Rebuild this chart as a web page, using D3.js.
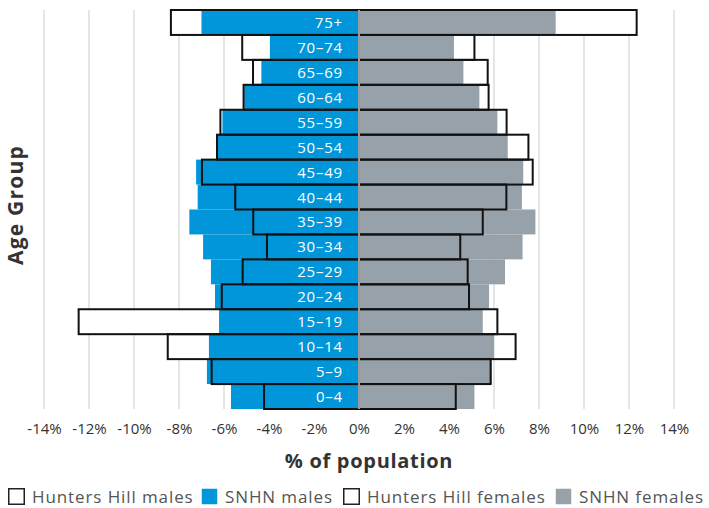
<!DOCTYPE html>
<html lang="en">
<head>
<meta charset="utf-8">
<title>Population pyramid</title>
<script src="https://cdn.jsdelivr.net/npm/d3@7"></script>
<style>
  body { margin: 0; background: #fff; }
  svg text { font-family: "Open Sans", sans-serif; }
</style>
</head>
<body>
<div id="chart"></div>
<script>
// age groups, bottom to top
var ageGroups = ["0-4","5-9","10-14","15-19","20-24","25-29","30-34","35-39",
                 "40-44","45-49","50-54","55-59","60-64","65-69","70-74","75+"];

// % of population, same order as ageGroups
var hhMales     = [4.22, 6.55, 8.5, 12.46, 6.1, 5.17, 4.09, 4.7, 5.5, 6.98, 6.31, 6.16, 5.13, 4.71, 5.19, 8.36];
var snhnMales   = [5.69, 6.76, 6.67, 6.22, 6.4, 6.58, 6.93, 7.54, 7.17, 7.24, 6.28, 6.07, 5.1, 4.34, 3.96, 7.0];
var hhFemales   = [4.3, 5.85, 6.96, 6.15, 4.89, 4.83, 4.5, 5.5, 6.55, 7.72, 7.53, 6.56, 5.76, 5.72, 5.13, 12.34];
var snhnFemales = [5.13, 5.9, 6.01, 5.5, 5.78, 6.49, 7.27, 7.84, 7.24, 7.3, 6.61, 6.15, 5.35, 4.64, 4.22, 8.74];

var xTicks = [-14,-12,-10,-8,-6,-4,-2,0,2,4,6,8,10,12,14];

var legendItems = [
  {label: "Hunters Hill males", fill: "#fff", stroke: "#222"},
  {label: "SNHN males", fill: "#0096d9", stroke: "none"},
  {label: "Hunters Hill females", fill: "#fff", stroke: "#222"},
  {label: "SNHN females", fill: "#97a1a9", stroke: "none"}
];

var w = 709, h = 508;
var blue = "#0096d9", grey = "#97a1a9";

var svg = d3.select("#chart").append("svg")
  .attr("width", w).attr("height", h);

var x = d3.scaleLinear().domain([-14, 14]).range([44, 674]);
var y = d3.scaleBand().domain(ageGroups.slice().reverse()).range([10, 409]).padding(0);

// grid lines
svg.append("g").selectAll("line")
  .data(xTicks)
  .enter().append("line")
  .attr("x1", function(d) { return x(d); })
  .attr("x2", function(d) { return x(d); })
  .attr("y1", 10).attr("y2", 409)
  .attr("stroke", "#dcdcdc")
  .attr("stroke-width", 1.5);

var rows = ageGroups.map(function(a, i) {
  return {age: a, hhM: hhMales[i], snM: snhnMales[i], hhF: hhFemales[i], snF: snhnFemales[i]};
});

// white backing for Hunters Hill boxes (hides the grid)
var back = svg.append("g");
back.selectAll(".hm").data(rows).enter().append("rect")
  .attr("x", function(d) { return x(-d.hhM); })
  .attr("y", function(d) { return y(d.age); })
  .attr("width", function(d) { return x(0) - x(-d.hhM); })
  .attr("height", y.bandwidth())
  .attr("fill", "#fff");
back.selectAll(".hf").data(rows).enter().append("rect")
  .attr("x", x(0))
  .attr("y", function(d) { return y(d.age); })
  .attr("width", function(d) { return x(d.hhF) - x(0); })
  .attr("height", y.bandwidth())
  .attr("fill", "#fff");

// SNHN bars
svg.append("g").selectAll("rect").data(rows).enter().append("rect")
  .attr("x", function(d) { return x(-d.snM); })
  .attr("y", function(d) { return y(d.age); })
  .attr("width", function(d) { return x(0) - x(-d.snM); })
  .attr("height", y.bandwidth())
  .attr("fill", blue);
svg.append("g").selectAll("rect").data(rows).enter().append("rect")
  .attr("x", x(0))
  .attr("y", function(d) { return y(d.age); })
  .attr("width", function(d) { return x(d.snF) - x(0); })
  .attr("height", y.bandwidth())
  .attr("fill", grey);

// Hunters Hill outlines
var outl = svg.append("g").attr("fill", "none").attr("stroke", "#111").attr("stroke-width", 2);
outl.selectAll(".om").data(rows).enter().append("rect")
  .attr("x", function(d) { return x(-d.hhM); })
  .attr("y", function(d) { return y(d.age); })
  .attr("width", function(d) { return x(0) - x(-d.hhM); })
  .attr("height", y.bandwidth());
outl.selectAll(".of").data(rows).enter().append("rect")
  .attr("x", x(0))
  .attr("y", function(d) { return y(d.age); })
  .attr("width", function(d) { return x(d.hhF) - x(0); })
  .attr("height", y.bandwidth());

// centre line
svg.append("line")
  .attr("x1", x(0)).attr("x2", x(0))
  .attr("y1", 10).attr("y2", 409)
  .attr("stroke", "#c8c8c8").attr("stroke-width", 1.5);

// age labels
svg.append("g").selectAll("text").data(rows).enter().append("text")
  .attr("x", x(0) - 16)
  .attr("y", function(d) { return y(d.age) + y.bandwidth() / 2 + 5.5; })
  .attr("text-anchor", "end")
  .attr("fill", "#fff")
  .style("font-size", "15px")
  .style("letter-spacing", "0.8px")
  .text(function(d) { return d.age.replace("-", "\u2013"); });

// x axis labels
var xAxis = d3.axisBottom(x)
  .tickValues(xTicks)
  .tickSize(0)
  .tickPadding(0)
  .tickFormat(function(d) { return d + "%"; });
var ax = svg.append("g").attr("transform", "translate(0,423)").call(xAxis);
ax.select(".domain").remove();
ax.selectAll("text")
  .style("font-family", "Open Sans, sans-serif")
  .style("font-size", "15px")
  .attr("fill", "#333");

// axis titles
svg.append("text")
  .attr("x", 369).attr("y", 468)
  .attr("text-anchor", "middle")
  .attr("fill", "#333")
  .style("font-size", "20px").style("font-weight", "bold")
  .style("letter-spacing", "0.7px")
  .text("% of population");

svg.append("text")
  .attr("transform", "translate(23,205) rotate(-90)")
  .attr("text-anchor", "middle")
  .attr("fill", "#333")
  .style("font-size", "21px").style("font-weight", "bold")
  .style("letter-spacing", "1.2px")
  .text("Age Group");

// legend
var legX = [8, 201, 343, 555];
var leg = svg.append("g").selectAll("g").data(legendItems).enter().append("g")
  .attr("transform", function(d, i) { return "translate(" + legX[i] + ",488)"; });
leg.append("rect")
  .attr("x", 0.75).attr("y", 0.75)
  .attr("width", 15.5).attr("height", 15.5)
  .attr("fill", function(d) { return d.fill; })
  .attr("stroke", function(d) { return d.stroke; })
  .attr("stroke-width", 1.5);
leg.append("text")
  .attr("x", 24).attr("y", 14.5)
  .attr("fill", "#555")
  .style("font-size", "17px")
  .style("letter-spacing", "0.9px")
  .text(function(d) { return d.label; });
</script>
</body>
</html>
